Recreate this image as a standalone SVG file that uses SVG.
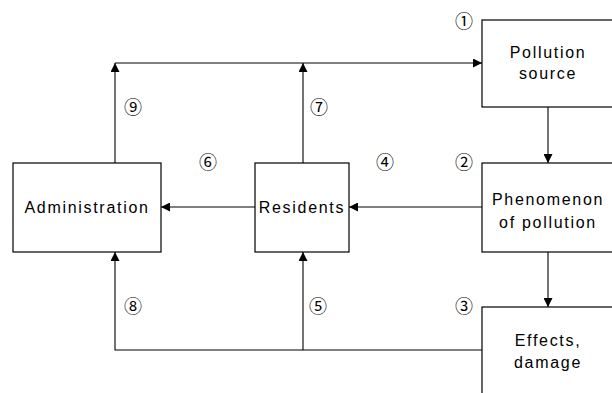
<svg xmlns="http://www.w3.org/2000/svg" width="612" height="393" viewBox="0 0 612 393">
<style>
.box{fill:#fff;stroke:#000;stroke-width:1.2}
.ln{fill:none;stroke:#000;stroke-width:1.1}
.t{font-family:"Liberation Sans",Arial,sans-serif;font-size:16px;letter-spacing:1.7px;fill:#000;text-anchor:middle}
.n{font-family:"Noto Sans CJK JP","Noto Sans CJK SC",sans-serif;font-size:18px;fill:#000;text-anchor:middle}
</style>
<defs>
<marker id="ah" viewBox="0 0 10 10" refX="10" refY="5" markerWidth="9" markerHeight="9" markerUnits="userSpaceOnUse" orient="auto">
<path d="M0,0 L10,5 L0,10 Z" fill="#000"/>
</marker>
</defs>
<g id="connectors">
<path class="ln" d="M115,163 V63" marker-end="url(#ah)"/>
<path class="ln" d="M115,63 H482" marker-end="url(#ah)"/>
<path class="ln" d="M303,163 V63" marker-end="url(#ah)"/>
<path class="ln" d="M548,107 V163" marker-end="url(#ah)"/>
<path class="ln" d="M548,252 V307" marker-end="url(#ah)"/>
<path class="ln" d="M482,207 H349" marker-end="url(#ah)"/>
<path class="ln" d="M255,207 H161" marker-end="url(#ah)"/>
<path class="ln" d="M482,350 H115 V252" marker-end="url(#ah)"/>
<path class="ln" d="M303,350 V252" marker-end="url(#ah)"/>
</g>
<g id="pollution-source">
<rect class="box" x="482" y="20" width="140" height="87"/>
<text class="t" x="548" y="58">Pollution</text>
<text class="t" x="548" y="79">source</text>
</g>
<g id="phenomenon">
<rect class="box" x="482" y="163" width="140" height="89"/>
<text class="t" x="548" y="205">Phenomenon</text>
<text class="t" x="548" y="228">of pollution</text>
</g>
<g id="effects">
<rect class="box" x="482" y="307" width="140" height="100"/>
<text class="t" x="548" y="346">Effects,</text>
<text class="t" x="548" y="368">damage</text>
</g>
<g id="administration">
<rect class="box" x="13" y="163" width="148" height="89"/>
<text class="t" x="87" y="213">Administration</text>
</g>
<g id="residents">
<rect class="box" x="255" y="163" width="94" height="89"/>
<text class="t" x="302" y="213">Residents</text>
</g>
<g id="labels">
<text class="n" x="464" y="28">①</text>
<text class="n" x="464" y="169">②</text>
<text class="n" x="464" y="313">③</text>
<text class="n" x="385" y="169">④</text>
<text class="n" x="318" y="313">⑤</text>
<text class="n" x="208" y="169">⑥</text>
<text class="n" x="319" y="114">⑦</text>
<text class="n" x="133" y="313">⑧</text>
<text class="n" x="133" y="114">⑨</text>
</g>
</svg>
